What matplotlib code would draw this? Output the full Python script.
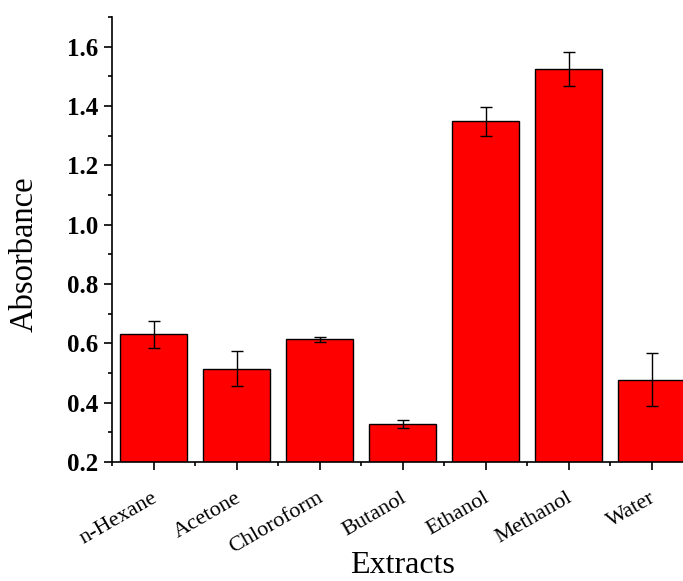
import matplotlib
matplotlib.use("Agg")
import matplotlib.pyplot as plt
from matplotlib.ticker import MultipleLocator, FixedLocator, FormatStrFormatter
import matplotlib.transforms as mtransforms

categories = ["n-Hexane", "Acetone", "Chloroform", "Butanol", "Ethanol", "Methanol", "Water"]
values = [0.631, 0.515, 0.613, 0.327, 1.348, 1.524, 0.478]
errors = [0.045, 0.060, 0.010, 0.013, 0.048, 0.057, 0.088]

plt.rcParams['font.family'] = ['Liberation Serif', 'DejaVu Serif']

fig = plt.figure(figsize=(6.83, 5.81), dpi=100)
ax = fig.add_axes([0.164, 0.2048, 0.8507, 0.7659])

x = list(range(len(categories)))
ax.bar(x, values, width=0.8, color='#ff0000', edgecolor='black', linewidth=1.0,
       yerr=errors, error_kw=dict(ecolor='black', elinewidth=1.0, capsize=4, capthick=1.0))

ax.set_xlim(-0.5, 6.5)
ax.set_ylim(0.2, 1.7)
ax.yaxis.set_major_locator(MultipleLocator(0.2))
ax.yaxis.set_minor_locator(MultipleLocator(0.1))
ax.yaxis.set_major_formatter(FormatStrFormatter('%.1f'))
ax.set_xticks(x)
ax.set_xticklabels(categories, rotation=30, ha='right', rotation_mode='anchor', fontsize=16)
ax.xaxis.set_minor_locator(FixedLocator([i - 0.5 for i in range(len(categories) + 1)]))

ax.tick_params(axis='both', which='major', direction='out', length=6, width=1.2)
ax.tick_params(axis='both', which='minor', direction='out', length=3, width=1.2)
ax.tick_params(axis='y', labelsize=18, pad=4)
ax.tick_params(axis='x', pad=13)
for lbl in ax.get_yticklabels():
    lbl.set_fontweight('bold')

offset = mtransforms.ScaledTranslation(-2 / 100, 0, fig.dpi_scale_trans)
for lbl in ax.get_xticklabels():
    lbl.set_transform(lbl.get_transform() + offset)

ax.spines['top'].set_visible(False)
ax.spines['right'].set_visible(False)
ax.spines['left'].set_linewidth(1.2)
ax.spines['bottom'].set_linewidth(1.2)

ax.set_ylabel("Absorbance", fontsize=23.5, va='center')
ax.yaxis.set_label_coords(-0.1515, 0.467)
ax.set_xlabel("Extracts", fontsize=23, va='baseline')
ax.xaxis.set_label_coords(0.5, -0.249)

fig.savefig("out.png", dpi=100)
